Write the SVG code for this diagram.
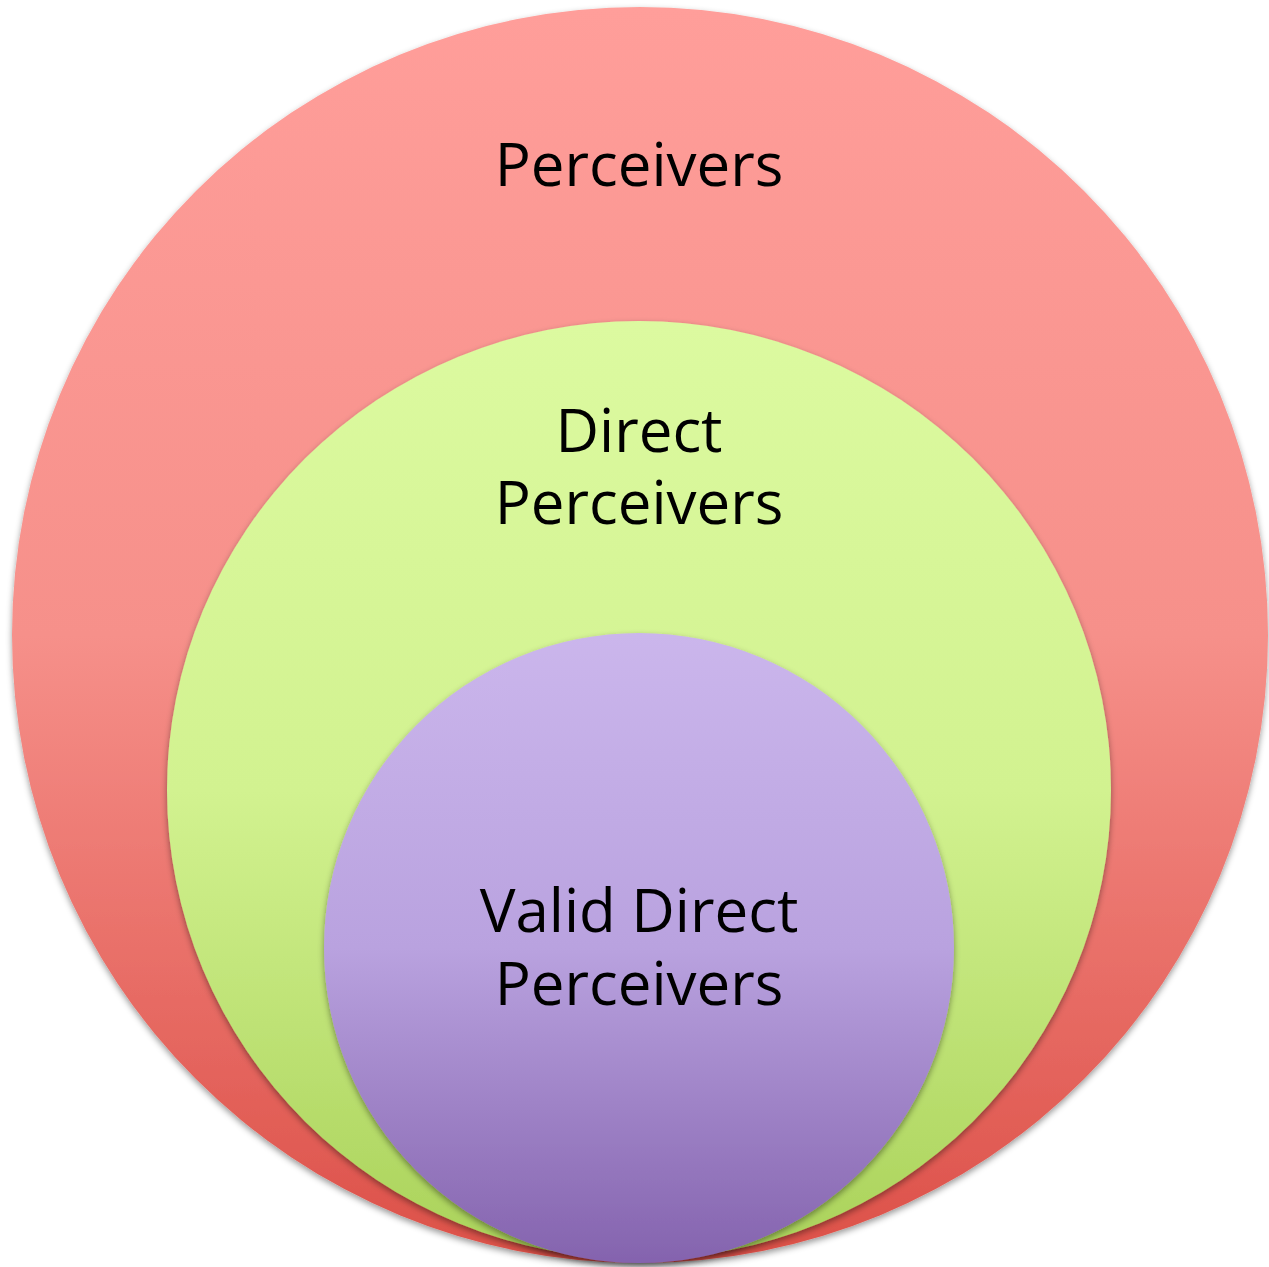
<svg xmlns="http://www.w3.org/2000/svg" width="1269" height="1267" viewBox="0 0 1269 1267">
  <defs>
    <linearGradient id="gRed" x1="0" y1="0" x2="0" y2="1">
      <stop offset="0" stop-color="#ff9e9a"/>
      <stop offset="0.5" stop-color="#f6908a"/>
      <stop offset="1" stop-color="#dc5048"/>
    </linearGradient>
    <linearGradient id="gGreen" x1="0" y1="0" x2="0" y2="1">
      <stop offset="0" stop-color="#dcfaa0"/>
      <stop offset="0.5" stop-color="#d2f290"/>
      <stop offset="1" stop-color="#aad25a"/>
    </linearGradient>
    <linearGradient id="gPurple" x1="0" y1="0" x2="0" y2="1">
      <stop offset="0" stop-color="#cbb6ec"/>
      <stop offset="0.5" stop-color="#b9a2df"/>
      <stop offset="1" stop-color="#8463ae"/>
    </linearGradient>
    <filter id="shadow" x="-10%" y="-10%" width="120%" height="120%">
      <feDropShadow dx="0" dy="3" stdDeviation="3" flood-color="#000" flood-opacity="0.4"/>
    </filter>
  </defs>
  <style>
    .label { font-family: "Open Sans", "Liberation Sans", sans-serif; font-size: 60px; fill: #000; text-anchor: middle; }
  </style>
  <g id="perceivers">
    <circle cx="640" cy="635" r="628" fill="url(#gRed)" filter="url(#shadow)"/>
    <text class="label" x="639" y="186">Perceivers</text>
  </g>
  <g id="direct-perceivers">
    <ellipse cx="639" cy="790" rx="472" ry="469" fill="url(#gGreen)" filter="url(#shadow)"/>
    <text class="label" x="639" y="452">Direct<tspan x="639" dy="72">Perceivers</tspan></text>
  </g>
  <g id="valid-direct-perceivers">
    <circle cx="639" cy="948" r="315" fill="url(#gPurple)" filter="url(#shadow)"/>
    <text class="label" x="639" y="932">Valid Direct<tspan x="639" dy="73">Perceivers</tspan></text>
  </g>
  <g id="connectors"/>
</svg>
